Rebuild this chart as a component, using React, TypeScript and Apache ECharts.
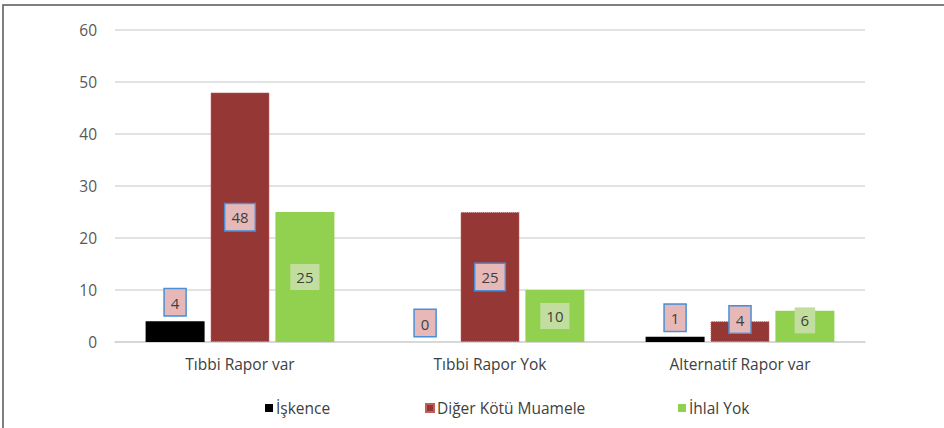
import React, { useEffect, useRef } from "react";
import * as echarts from "echarts";

const categories = ["Tıbbi Rapor var", "Tıbbi Rapor Yok", "Alternatif Rapor var"];
const seriesNames = ["İşkence", "Diğer Kötü Muamele", "İhlal Yok"];
const iskence = [4, 0, 1];
const digerKotu = [48, 25, 4];
const ihlalYok = [25, 10, 6];
const yTicks = { min: 0, max: 60, interval: 10 };

const FONT = "'Open Sans', 'Noto Sans', sans-serif";

export default function App() {
  const ref = useRef<HTMLDivElement>(null);
  useEffect(() => {
    if (!ref.current) return;
    const chart = echarts.init(ref.current, null, { renderer: "svg" });
    const pinkLabel = {
      show: true,
      color: "#404040",
      fontSize: 15,
      fontFamily: FONT,
      backgroundColor: "#e6b9b8",
      borderColor: "#4a8fd8",
      borderWidth: 1.5,
      padding: [6, 6, 5, 6],
    };
    const greenLabel = {
      show: true,
      color: "#404040",
      fontSize: 15,
      fontFamily: FONT,
      backgroundColor: "#c2de9f",
      padding: [6, 6, 5, 6],
    };
    const legendBase = {
      itemWidth: 8,
      itemHeight: 8,
      itemGap: 0,
      top: 395,
      textStyle: { color: "#404040", fontSize: 15.5, fontFamily: FONT, padding: [0, 0, 0, -2] },
      icon: "rect",
    };
    chart.setOption({
      animation: false,
      backgroundColor: "#ffffff",
      grid: { left: 115, right: 79, top: 30, bottom: 86 },
      graphic: [
        {
          type: "rect",
          shape: { x: 3, y: 5, width: 960, height: 440 },
          style: { fill: "none", stroke: "#555555", lineWidth: 1.5 },
          silent: true,
        },
      ],
      legend: [
        { ...legendBase, left: 260, data: [seriesNames[0]] },
        { ...legendBase, left: 420, data: [seriesNames[1]] },
        { ...legendBase, left: 673, data: [seriesNames[2]] },
      ],
      xAxis: {
        type: "category",
        data: categories,
        axisLine: { lineStyle: { color: "#d4d4d4", width: 1.5 } },
        axisTick: { show: false },
        axisLabel: { color: "#404040", fontSize: 15.5, fontFamily: FONT, margin: 14 },
      },
      yAxis: {
        type: "value",
        min: yTicks.min,
        max: yTicks.max,
        interval: yTicks.interval,
        axisLine: { show: false },
        axisTick: { show: false },
        splitLine: { lineStyle: { color: "#d9d9d9", width: 1.5 } },
        axisLabel: { color: "#595959", fontSize: 15.5, fontFamily: FONT, margin: 18 },
      },
      series: [
        {
          name: seriesNames[0],
          type: "bar",
          data: iskence,
          barWidth: 59,
          barGap: "10%",
          itemStyle: { color: "#000000" },
          label: { ...pinkLabel, position: "top", distance: 6 },
        },
        {
          name: seriesNames[1],
          type: "bar",
          data: digerKotu.map((v, i) =>
            i === 2 ? { value: v, label: { offset: [0, -12] } } : v
          ),
          barWidth: 59,
          barGap: "10%",
          itemStyle: { color: "#953735", borderColor: "#c0605c", borderWidth: 1, borderType: "dotted" },
          label: { ...pinkLabel, position: "inside" },
        },
        {
          name: seriesNames[2],
          type: "bar",
          data: ihlalYok.map((v, i) =>
            i === 2 ? { value: v, label: { offset: [0, -6] } } : v
          ),
          barWidth: 59,
          barGap: "10%",
          itemStyle: { color: "#92d050" },
          label: { ...greenLabel, position: "inside" },
        },
      ],
    });
    return () => chart.dispose();
  }, []);
  return (
    <div
      ref={ref}
      style={{ position: "fixed", left: 0, top: 0, width: 944, height: 428 }}
    />
  );
}
